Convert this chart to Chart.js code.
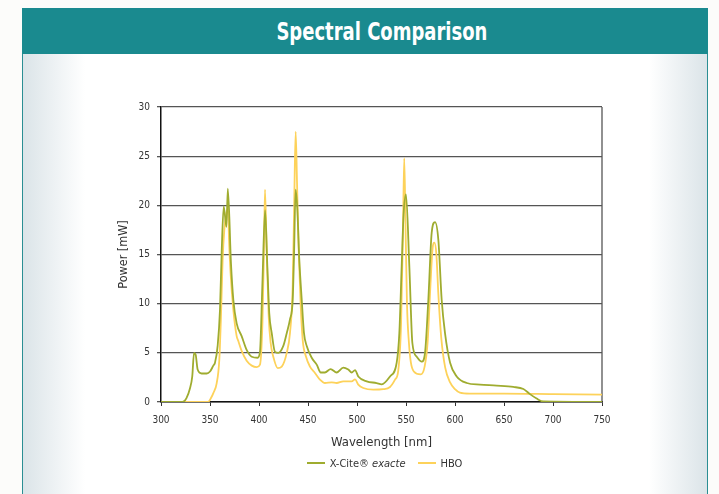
<!DOCTYPE html>
<html>
<head>
<meta charset="utf-8">
<script src="https://cdn.jsdelivr.net/npm/chart.js@4.4.1/dist/chart.umd.min.js"></script>
<style>
    html, body { margin: 0; padding: 0; }
    body { width: 719px; height: 494px; position: relative; overflow: hidden; background: #fcfcfa; font-family: "DejaVu Sans Condensed", "DejaVu Sans", sans-serif; }
    #header { position: absolute; left: 22px; top: 8px; width: 686px; height: 46px; background: #1a8a8f; color: #fff; }
    #header h1 { margin: 0; padding-left: 34px; font-size: 25px; font-weight: bold; line-height: 47px; text-align: center; }
    #header h1 span { display: inline-block; transform: scaleX(0.8); }
    #panel { position: absolute; left: 22px; top: 54px; width: 684px; height: 440px; border-left: 1px solid #2a8e93; border-right: 1px solid #2a8e93;
        background: linear-gradient(to right, #dbe4e8 0px, #ffffff 62px, #ffffff 626px, #dbe4e8 684px); }
    #spectrum { position: absolute; left: 22px; top: 54px; }
    #legend { position: absolute; left: 0; width: 719px; top: 457px; text-align: center; font-size: 11px; color: #333; padding-left: 50px; box-sizing: border-box; }
    #legend span.item { margin: 0 6px; }
    #legend span.swatch { display: inline-block; width: 18px; height: 2px; vertical-align: middle; margin-right: 5px; position: relative; top: -1px; }
</style>
</head>
<body>
<div id="header"><h1><span>Spectral Comparison</span></h1></div>
<div id="panel"></div>
<canvas id="spectrum" width="686" height="440"></canvas>
<div id="legend"></div>
<script>
// wavelengths [nm] and power [mW]
const exacteNm = [300, 322, 326, 329.6, 331.9, 333.7, 335.4, 337.4, 341.5, 346.6, 350, 353.4, 355.1, 357.8, 360.2, 361.9, 364, 366.8, 368.2,
    371.4, 373.8, 377.2, 382.3, 387.4, 392.6, 398.6, 401, 403.4, 406.2, 408.5, 410.5, 413, 416.3, 419.7, 424.8, 428.3, 431.6, 434.4, 435.7,
    437.4, 439.1, 441.1, 443.6, 445.9, 448.7, 453.8, 458.9, 463, 467.3, 473.1, 479.2, 486, 491.1, 494.6, 498, 501.3, 509.9, 520, 525.2,
    533.7, 540.5, 543.2, 545.6, 547.5, 550, 553.4, 556.5, 561, 566.1, 569.4, 572.8, 576.2, 579.6, 583, 586.4, 589.8, 595, 601.7, 612,
    625.5, 642.6, 659.5, 669.8, 676.5, 683.3, 690, 750];
const exacteMw = [0, 0, 0.4, 1.4, 2.6, 5.0, 4.8, 3.3, 2.9, 2.9, 3.1, 3.7, 4.0, 5.7, 9.4, 15.2, 19.9, 17.8, 21.7,
    14.1, 10.4, 8.0, 6.7, 5.3, 4.6, 4.5, 5.1, 11.8, 19.5, 13.8, 9.0, 7.0, 5.1, 5.0, 5.7, 7.0, 8.4, 10.4, 14.8,
    21.6, 19.6, 14.5, 10.4, 7.0, 5.7, 4.5, 3.8, 3.0, 3.0, 3.35, 3.0, 3.5, 3.3, 3.0, 3.25, 2.6, 2.1, 1.93, 1.8,
    2.6, 4.0, 7.0, 13.8, 19.0, 21.1, 13.8, 6.0, 4.6, 4.1, 5.0, 10.4, 17.2, 18.3, 16.5, 10.4, 7.0, 4.0, 2.6, 1.93,
    1.77, 1.67, 1.53, 1.32, 0.8, 0.35, 0.05, 0];

const hboNm = [300, 348, 351, 353.4, 356.8, 359.5, 361.2, 362.9, 364.6, 366.3, 368.5, 369.4, 371, 373.8, 377.2, 378.9, 382.3, 387.4, 392.6,
    397.7, 401, 403.5, 405, 406.1, 407.8, 409.9, 411.9, 414.6, 419.1, 423.2, 428.3, 431.6, 434.4, 436, 437.4, 438.8, 440.5, 442.6, 444.6,
    448, 452, 457.1, 462.2, 467.3, 474.2, 479.2, 486, 494.6, 498, 501.3, 506.4, 516.6, 526.8, 533.7, 538.8, 542.1, 545, 547, 548.2, 549.5,
    551, 553, 555, 558, 565, 569, 572, 575, 577, 579, 581, 583, 586, 590, 595, 600, 605, 615, 650, 700, 750];
const hboMw = [0, 0, 0.4, 0.9, 1.9, 4.3, 8.7, 14.5, 17.5, 18.9, 19.8, 16.5, 13.1, 9.4, 6.7, 6.2, 5.2, 4.2, 3.7,
    3.55, 3.8, 8.0, 15.0, 21.6, 15.5, 8.7, 6.0, 4.6, 3.45, 3.6, 5.0, 7.0, 11.8, 20.6, 27.5, 22.3, 15.5, 9.7, 6.3,
    4.6, 3.6, 2.95, 2.27, 1.93, 2.0, 1.93, 2.1, 2.1, 2.3, 1.76, 1.42, 1.25, 1.3, 1.53, 2.27, 3.2, 8.0, 18.0, 24.8, 18.0,
    10.0, 6.0, 4.0, 3.1, 2.8, 3.6, 6.0, 12.0, 15.5, 16.2, 15.0, 11.0, 6.5, 3.5, 2.0, 1.3, 0.95, 0.85, 0.85, 0.8, 0.75];

const xTicks = [300, 350, 400, 450, 500, 550, 600, 650, 700, 750];
const yTicks = [0, 5, 10, 15, 20, 25, 30];

const GREEN = '#9fac2f';
const YELLOW = '#fdd25a';
const FONT = '"DejaVu Sans Condensed", "DejaVu Sans", sans-serif';

function toPoints(xs, ys) {
    return xs.map((x, i) => ({ x: x, y: ys[i] }));
}

// outline of the plot area (right edge has no axis of its own)
const frame = {
    id: 'frame',
    beforeDatasetsDraw(chart) {
        const a = chart.chartArea;
        const c = chart.ctx;
        c.save();
        c.strokeStyle = '#555';
        c.lineWidth = 1.3;
        c.beginPath();
        c.moveTo(a.right, a.top);
        c.lineTo(a.right, a.bottom);
        c.stroke();
        c.restore();
    }
};

const chart = new Chart(document.getElementById('spectrum'), {
    type: 'line',
    data: {
        datasets: [
            {
                label: 'X-Cite® exacte',
                data: toPoints(exacteNm, exacteMw),
                borderColor: GREEN,
                borderWidth: 1.8,
                pointRadius: 0,
                cubicInterpolationMode: 'monotone',
                fill: false
            },
            {
                label: 'HBO',
                data: toPoints(hboNm, hboMw),
                borderColor: YELLOW,
                borderWidth: 1.8,
                pointRadius: 0,
                cubicInterpolationMode: 'monotone',
                fill: false
            }
        ]
    },
    options: {
        responsive: false,
        animation: false,
        layout: { padding: { left: 90, right: 106, top: 53, bottom: 44 } },
        plugins: {
            legend: { display: false },
            tooltip: { enabled: false }
        },
        scales: {
            x: {
                type: 'linear',
                min: xTicks[0],
                max: xTicks[xTicks.length - 1],
                afterBuildTicks: s => { s.ticks = xTicks.map(v => ({ value: v })); },
                afterFit: s => { s.height = 48; },
                ticks: { color: '#333', padding: 8, font: { family: FONT, size: 10 } },
                grid: { drawOnChartArea: false, tickLength: 4, color: '#333', lineWidth: 1 },
                border: { color: '#111', width: 1.5 },
                title: { display: true, text: 'Wavelength [nm]', color: '#333', font: { family: FONT, size: 13 }, padding: { top: 2, bottom: 0 } }
            },
            y: {
                min: yTicks[0],
                max: yTicks[yTicks.length - 1],
                afterBuildTicks: s => { s.ticks = yTicks.map(v => ({ value: v })); },
                afterFit: s => { s.width = 49; },
                ticks: { color: '#333', padding: 7, font: { family: FONT, size: 10 } },
                grid: { color: '#555', lineWidth: 1.3, tickLength: 4 },
                border: { color: '#111', width: 1.5 },
                title: { display: true, text: 'Power [mW]', color: '#333', font: { family: FONT, size: 12.5 } }
            }
        }
    },
    plugins: [frame]
});

// legend below the chart, with the product name in italics as in the original
const legend = document.getElementById('legend');
chart.data.datasets.forEach(ds => {
    const item = document.createElement('span');
    item.className = 'item';
    const sw = document.createElement('span');
    sw.className = 'swatch';
    sw.style.background = ds.borderColor;
    item.appendChild(sw);
    const parts = ds.label.split(' ');
    if (parts.length > 1) {
        item.appendChild(document.createTextNode(parts[0] + ' '));
        const em = document.createElement('i');
        em.textContent = parts.slice(1).join(' ');
        item.appendChild(em);
    } else {
        item.appendChild(document.createTextNode(ds.label));
    }
    legend.appendChild(item);
});
</script>
</body>
</html>
